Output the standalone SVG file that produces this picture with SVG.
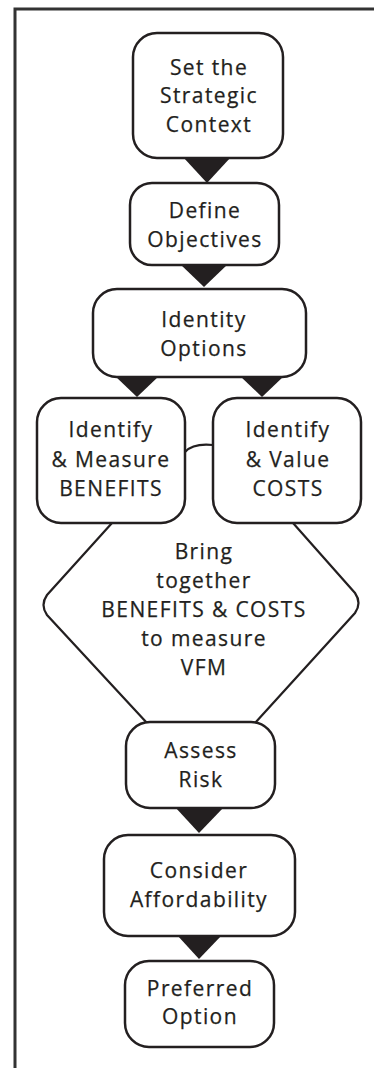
<svg xmlns="http://www.w3.org/2000/svg" width="374" height="1068" viewBox="0 0 374 1068">
<style>
.box{fill:#fff;stroke:#231f20;stroke-width:2.5}
.arr{fill:#231f20;stroke:none}
.ln{fill:none;stroke:#231f20;stroke-width:2.2}
text{font-family:"Open Sans","Liberation Sans",sans-serif;font-size:21px;fill:#231f20;stroke:#231f20;stroke-width:0.25;text-anchor:middle;letter-spacing:1.4px}
</style>
<rect width="374" height="1068" fill="#fff"/>
<path d="M15,1068 V9 H374" fill="none" stroke="#333" stroke-width="3"/>
<g id="connectors">
<polygon class="arr" points="183,157 231,157 207,183"/>
<polygon class="arr" points="180,264 228,264 204,287"/>
<polygon class="arr" points="115,376 159,376 137,397"/>
<polygon class="arr" points="240,376 284,376 262,397"/>
<polygon class="arr" points="175,807 224,807 199,833"/>
<polygon class="arr" points="177,935 222,935 199,959"/>
<path class="ln" d="M185,452 Q193,443 213,445"/>
</g>
<g id="vfm">
<path class="ln" d="M112,523 L47,595 Q40,605 47,615 L147,723 M293,523 L355,593 Q362,603 355,613 L255,723"/>
<text x="204" y="559">Bring</text>
<text x="204" y="588">together</text>
<text x="204" y="617">BENEFITS &amp; COSTS</text>
<text x="204" y="646">to measure</text>
<text x="204" y="675">VFM</text>
</g>
<g id="context">
<rect class="box" x="133" y="33" width="150" height="125" rx="24"/>
<text x="209" y="75">Set the</text>
<text x="209" y="103">Strategic</text>
<text x="209" y="132">Context</text>
</g>
<g id="objectives">
<rect class="box" x="130" y="183" width="149" height="82" rx="22"/>
<text x="205" y="218">Define</text>
<text x="205" y="247">Objectives</text>
</g>
<g id="options">
<rect class="box" x="93" y="289" width="213" height="88" rx="24"/>
<text x="204" y="327">Identity</text>
<text x="204" y="356">Options</text>
</g>
<g id="benefits">
<rect class="box" x="37" y="398" width="148" height="125" rx="24"/>
<text x="111" y="437">Identify</text>
<text x="111" y="467">&amp; Measure</text>
<text x="111" y="496">BENEFITS</text>
</g>
<g id="costs">
<rect class="box" x="213" y="398" width="148" height="125" rx="24"/>
<text x="288" y="437">Identify</text>
<text x="288" y="467">&amp; Value</text>
<text x="288" y="496">COSTS</text>
</g>
<g id="risk">
<rect class="box" x="126" y="722" width="149" height="86" rx="24"/>
<text x="201" y="758">Assess</text>
<text x="201" y="787">Risk</text>
</g>
<g id="affordability">
<rect class="box" x="104" y="835" width="191" height="101" rx="24"/>
<text x="199" y="878">Consider</text>
<text x="199" y="907">Affordability</text>
</g>
<g id="preferred">
<rect class="box" x="125" y="961" width="149" height="86" rx="24"/>
<text x="200" y="996">Preferred</text>
<text x="200" y="1024">Option</text>
</g>
</svg>
